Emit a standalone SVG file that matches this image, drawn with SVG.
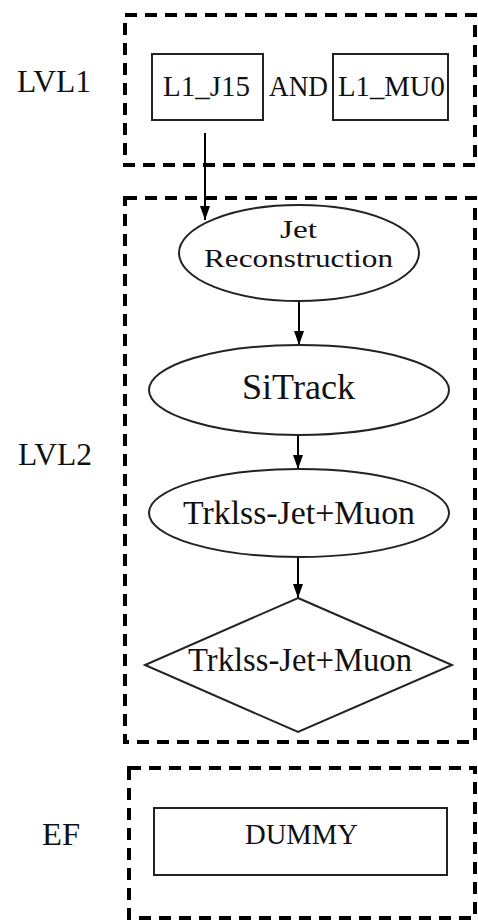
<svg xmlns="http://www.w3.org/2000/svg" width="478" height="922" viewBox="0 0 478 922">
<style>
text{font-family:"Times New Roman","Liberation Serif",Tinos,"DejaVu Serif",serif;fill:#111;}
.grp{fill:none;stroke:#000;stroke-width:4;stroke-dasharray:12 8;}
.box{fill:#fff;stroke:#222;stroke-width:2;}
.edge{fill:none;stroke:#000;stroke-width:2;marker-end:url(#ah);}
</style>
<defs>
<marker id="ah" markerWidth="14" markerHeight="10" refX="14" refY="5" orient="auto" markerUnits="userSpaceOnUse" viewBox="0 0 14 10">
<path d="M0,0 L14,5 L0,10 Z" fill="#000"/>
</marker>
</defs>
<rect width="478" height="922" fill="#fff"/>
<g id="lvl1-group">
<rect class="grp" x="125" y="15" width="350" height="150"/>
<text x="17" y="92" font-size="32" textLength="74" lengthAdjust="spacingAndGlyphs">LVL1</text>
</g>
<g id="lvl2-group">
<rect class="grp" x="125" y="198" width="350" height="544"/>
<text x="18" y="465" font-size="32" textLength="74" lengthAdjust="spacingAndGlyphs">LVL2</text>
</g>
<g id="ef-group">
<rect class="grp" x="129" y="768" width="346" height="150"/>
<text x="42" y="845" font-size="32" textLength="38" lengthAdjust="spacingAndGlyphs">EF</text>
</g>
<g id="connectors">
<line class="edge" x1="205" y1="133" x2="205" y2="220"/>
<line class="edge" x1="299" y1="302" x2="299" y2="345"/>
<line class="edge" x1="298" y1="435" x2="298" y2="469"/>
<line class="edge" x1="298" y1="557" x2="298" y2="598"/>
</g>
<g id="n-l1j15">
<rect class="box" x="152" y="54" width="111" height="66"/>
<text x="163" y="96" font-size="30" textLength="87" lengthAdjust="spacingAndGlyphs">L1_J15</text>
</g>
<g id="t-and">
<text x="269" y="96" font-size="30" textLength="59" lengthAdjust="spacingAndGlyphs">AND</text>
</g>
<g id="n-l1mu0">
<rect class="box" x="333" y="54" width="115" height="66"/>
<text x="338" y="96" font-size="30" textLength="107" lengthAdjust="spacingAndGlyphs">L1_MU0</text>
</g>
<g id="n-jetreco">
<ellipse class="box" cx="299" cy="253" rx="120" ry="48" stroke-width="2.5"/>
<text x="280" y="238" font-size="25" textLength="37" lengthAdjust="spacingAndGlyphs">Jet</text>
<text x="204" y="267" font-size="26" textLength="189" lengthAdjust="spacingAndGlyphs">Reconstruction</text>
</g>
<g id="n-sitrack">
<ellipse class="box" cx="299" cy="390" rx="150" ry="45" stroke-width="2.5"/>
<text x="242" y="399" font-size="35" textLength="113" lengthAdjust="spacingAndGlyphs">SiTrack</text>
</g>
<g id="n-trklss">
<ellipse class="box" cx="299" cy="513" rx="150" ry="44" stroke-width="2.5"/>
<text x="183" y="524" font-size="34" textLength="232" lengthAdjust="spacingAndGlyphs">Trklss-Jet+Muon</text>
</g>
<g id="n-decision">
<polygon class="box" points="298,598 452,665 298,732 145,665"/>
<text x="188" y="671" font-size="34" textLength="224" lengthAdjust="spacingAndGlyphs">Trklss-Jet+Muon</text>
</g>
<g id="n-dummy">
<rect class="box" x="154" y="808" width="293" height="67"/>
<text x="245" y="844" font-size="30" textLength="113" lengthAdjust="spacingAndGlyphs">DUMMY</text>
</g>
</svg>
